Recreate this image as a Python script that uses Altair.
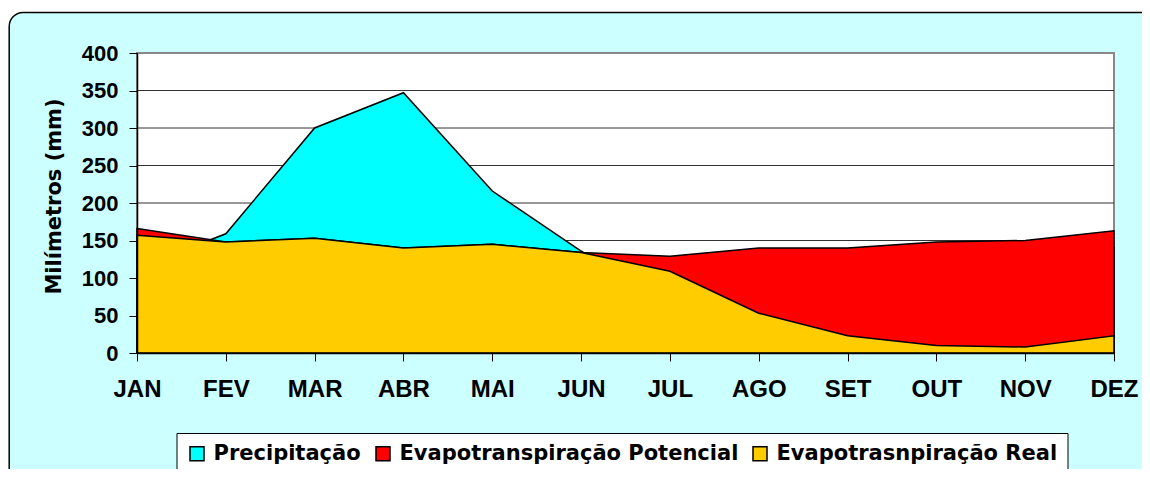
import altair as alt
import pandas as pd

months = ["JAN", "FEV", "MAR", "ABR", "MAI", "JUN", "JUL", "AGO", "SET", "OUT", "NOV", "DEZ"]
precip = [113, 159, 300, 347, 216, 136, 60, 45, 50, 80, 110, 140]
etp = [166, 148, 153, 140, 145, 134, 129, 140, 140, 148, 150, 163]
etr = [157, 148, 153, 140, 145, 134, 109, 53, 23, 10, 8, 23]
series = ["Precipitação", "Evapotranspiração Potencial", "Evapotrasnpiração Real"]
colors = ["#00FFFF", "#FF0000", "#FFCC00"]
y_ticks = [0, 50, 100, 150, 200, 250, 300, 350, 400]
grid_vals = [50, 100, 150, 200, 250, 300, 350]

rows = []
for name, vals in zip(series, [precip, etp, etr]):
    for m, v in zip(months, vals):
        rows.append({"mes": m, "valor": v, "serie": name})
df = pd.DataFrame(rows)

W, H = 977, 300
yscale = alt.Scale(domain=[0, 400])

xaxis = alt.Axis(
    title=None, labelAngle=0, labelFont="Liberation Sans", labelFontSize=24, labelFontWeight="bold",
    labelColor="black", tickSize=8, tickColor="black", domainColor="black", domainWidth=1.5,
    labelPadding=16, grid=False, zindex=1, labelOverlap=False
)
yaxis = alt.Axis(
    title="Milímetros (mm)", values=y_ticks, labelFont="Liberation Sans", labelFontSize=22,
    labelFontWeight="bold", labelColor="black", tickSize=8, tickColor="black", domainColor="black",
    domainWidth=1.5, labelPadding=11, grid=False, zindex=1,
    titleFont="DejaVu Sans", titleFontSize=21, titleFontWeight="bold", titleColor="black",
    titleX=-77, titleY=143, titleAngle=270, titleBaseline="alphabetic", titleAlign="center"
)
legend = alt.Legend(
    title=None, orient="none", legendX=39.5, legendY=380, direction="horizontal",
    fillColor="white", strokeColor="black", padding=10, symbolType="square", symbolSize=196,
    symbolStrokeColor="black", symbolStrokeWidth=1.5, labelFont="DejaVu Sans", labelFontSize=21,
    labelFontWeight="bold", labelColor="black", labelOffset=6, columnPadding=11, labelLimit=600
)

bg = alt.Chart(pd.DataFrame({"k": [0]})).mark_rect(
    fill="#CCFFFF", stroke="black", strokeWidth=1.5, cornerRadius=14, clip=False
).encode(x=alt.value(-127.8), x2=alt.value(1030), y=alt.value(-40.6), y2=alt.value(520))

plotbg = alt.Chart(pd.DataFrame({"k": [0]})).mark_rect(
    fill="white", stroke="#888888", strokeWidth=2
).encode(x=alt.value(0), x2=alt.value(W), y=alt.value(0), y2=alt.value(H))

grid = alt.Chart(pd.DataFrame({"valor": grid_vals})).mark_rule(color="#333333", strokeWidth=1).encode(
    y=alt.Y("valor:Q", scale=yscale, axis=yaxis)
)


def area(name):
    return alt.Chart(df).transform_filter(alt.datum.serie == name).mark_area(
        stroke="black", strokeWidth=1.5, opacity=1
    ).encode(
        x=alt.X("mes:N", sort=months, scale=alt.Scale(type="point", padding=0), axis=xaxis),
        y=alt.Y("valor:Q", scale=yscale, axis=yaxis, stack=None),
        color=alt.Color("serie:N", scale=alt.Scale(domain=series, range=colors), legend=legend),
    )


chart = alt.layer(bg, plotbg, grid, area(series[0]), area(series[1]), area(series[2])).properties(
    width=W, height=H,
    padding={"left": 129, "top": 45, "right": 28, "bottom": 116},
    autosize=alt.AutoSizeParams(type="none"),
    background="white",
).configure_view(stroke=None)

chart.save("out.html", embed_options={"renderer": "svg", "actions": False})
